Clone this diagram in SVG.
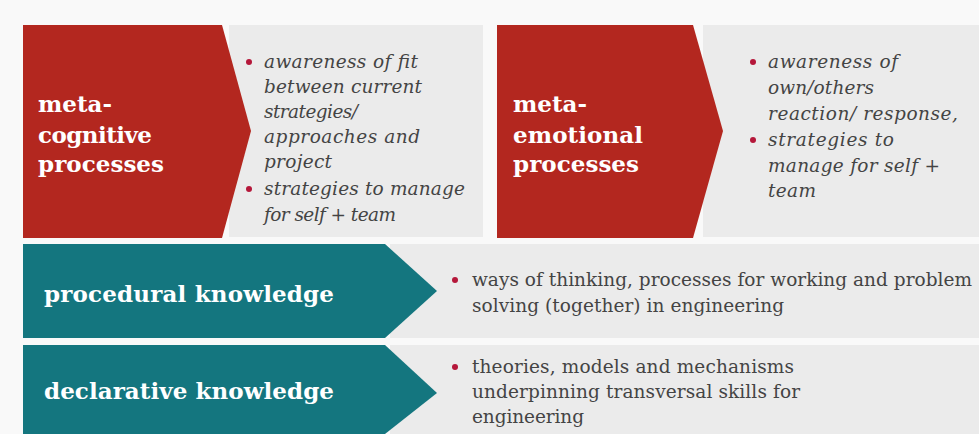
<svg xmlns="http://www.w3.org/2000/svg" width="979" height="434" viewBox="0 0 979 434">
<style>
.red{fill:#b3271f}
.teal{fill:#14767f}
.panel{fill:#ebebeb}
.lbl{font-family:"DejaVu Serif","Liberation Serif",serif;font-weight:bold;fill:#ffffff;font-size:23px}
.it{font-family:"DejaVu Serif","Liberation Serif",serif;font-style:italic;fill:#444444;font-size:18.5px}
.rg{font-family:"DejaVu Serif","Liberation Serif",serif;fill:#444444;font-size:18.5px}
.dot{fill:#b5173a}
</style>
<rect x="0" y="0" width="979" height="434" fill="#f9f9f9"/>
<g id="metacognitive">
<rect class="panel" x="229" y="25" width="254" height="212"/>
<polygon class="red" points="23,25 222,25 251,131 222,238 23,238"/>
<text class="lbl" x="38" y="112">meta-</text>
<text class="lbl" x="38" y="143" textLength="114">cognitive</text>
<text class="lbl" x="38" y="172" textLength="126">processes</text>
<circle class="dot" cx="249" cy="62" r="3"/>
<text class="it" x="264" y="68" textLength="154">awareness of fit</text>
<text class="it" x="264" y="93" textLength="158">between current</text>
<text class="it" x="264" y="118" textLength="94">strategies/</text>
<text class="it" x="264" y="143" textLength="156">approaches and</text>
<text class="it" x="264" y="168" textLength="68">project</text>
<circle class="dot" cx="249" cy="189" r="3"/>
<text class="it" x="264" y="195" textLength="201">strategies to manage</text>
<text class="it" x="264" y="221" textLength="132">for self + team</text>
</g>
<g id="metaemotional">
<rect class="panel" x="703" y="25" width="276" height="212"/>
<polygon class="red" points="497,25 693,25 723,131 693,238 497,238"/>
<text class="lbl" x="513" y="112">meta-</text>
<text class="lbl" x="513" y="143" textLength="130">emotional</text>
<text class="lbl" x="513" y="172" textLength="126">processes</text>
<circle class="dot" cx="753" cy="62" r="3"/>
<text class="it" x="768" y="68" textLength="130">awareness of</text>
<text class="it" x="768" y="94" textLength="106">own/others</text>
<text class="it" x="768" y="120" textLength="190">reaction/ response,</text>
<circle class="dot" cx="753" cy="140" r="3"/>
<text class="it" x="768" y="146" textLength="126">strategies to</text>
<text class="it" x="768" y="172" textLength="172">manage for self +</text>
<text class="it" x="768" y="197" textLength="48">team</text>
</g>
<g id="procedural">
<rect class="panel" x="390" y="244" width="589" height="94"/>
<polygon class="teal" points="23,244 385,244 437,291 385,338 23,338"/>
<text class="lbl" x="44" y="302" textLength="290">procedural knowledge</text>
<circle class="dot" cx="455" cy="280" r="3"/>
<text class="rg" x="472" y="286" textLength="500">ways of thinking, processes for working and problem</text>
<text class="rg" x="472" y="312" textLength="312">solving (together) in engineering</text>
</g>
<g id="declarative">
<rect class="panel" x="390" y="345" width="589" height="89"/>
<polygon class="teal" points="23,345 385,345 437,393 385,434 23,434"/>
<text class="lbl" x="44" y="399" textLength="290">declarative knowledge</text>
<circle class="dot" cx="455" cy="367" r="3"/>
<text class="rg" x="472" y="373" textLength="322">theories, models and mechanisms</text>
<text class="rg" x="472" y="398" textLength="328">underpinning transversal skills for</text>
<text class="rg" x="472" y="423" textLength="112">engineering</text>
</g>
<g id="connectors"></g>
</svg>
